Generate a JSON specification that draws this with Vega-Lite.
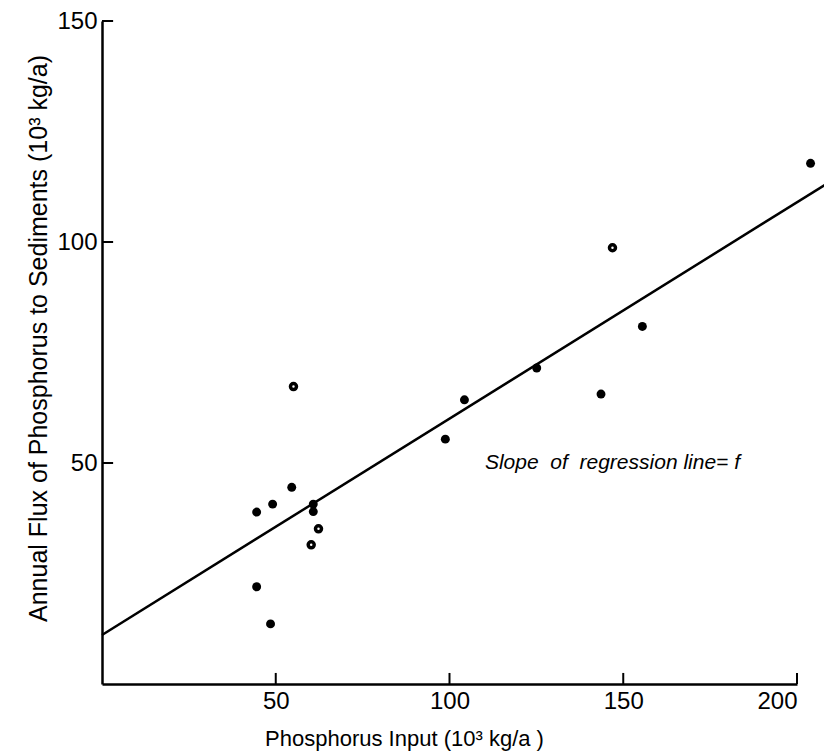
{
  "$schema": "https://vega.github.io/schema/vega-lite/v6.json",
  "width": 695,
  "height": 663,
  "autosize": {"type": "none"},
  "padding": {"left": 102, "top": 21, "right": 27, "bottom": 68},
  "background": "white",
  "config": {"view": {"stroke": null}, "font": "Liberation Sans"},
  "datasets": {
    "points": [
      {"input": 55.1, "flux": 67.3, "marker": "ring"},
      {"input": 54.6, "flux": 44.5, "marker": "filled"},
      {"input": 49.1, "flux": 40.7, "marker": "filled"},
      {"input": 44.5, "flux": 38.9, "marker": "filled"},
      {"input": 60.8, "flux": 40.7, "marker": "filled"},
      {"input": 60.8, "flux": 39.0, "marker": "filled"},
      {"input": 62.3, "flux": 35.1, "marker": "ring"},
      {"input": 60.2, "flux": 31.5, "marker": "ring"},
      {"input": 44.5, "flux": 22.0, "marker": "filled"},
      {"input": 48.5, "flux": 13.6, "marker": "filled"},
      {"input": 203.9, "flux": 117.8, "marker": "filled"},
      {"input": 146.9, "flux": 98.7, "marker": "ring"},
      {"input": 155.5, "flux": 80.9, "marker": "filled"},
      {"input": 125.1, "flux": 71.5, "marker": "filled"},
      {"input": 143.6, "flux": 65.6, "marker": "filled"},
      {"input": 104.3, "flux": 64.3, "marker": "filled"},
      {"input": 98.8, "flux": 55.4, "marker": "filled"}
    ],
    "regression": [
      {"input": 0, "flux": 11.1},
      {"input": 208, "flux": 112.9}
    ],
    "xticks": [{"value": 50}, {"value": 100}, {"value": 150}, {"value": 200}],
    "yticks": [{"value": 50}, {"value": 100}, {"value": 150}]
  },
  "layer": [
    {
      "data": {"name": "regression"},
      "mark": {"type": "line", "color": "black", "strokeWidth": 2.5, "clip": false},
      "encoding": {
        "x": {
          "field": "input",
          "type": "quantitative",
          "scale": {"domain": [0, 200], "nice": false, "zero": true},
          "axis": {
            "title": "Phosphorus Input (10³ kg/a )",
            "values": [50, 100, 150, 200],
            "grid": false,
            "ticks": false,
            "domainColor": "black",
            "domainWidth": 2.5,
            "labelPadding": 5,
            "labelFontSize": 24,
            "labelColor": "black",
            "labelFont": "Liberation Sans",
            "titleFont": "Liberation Sans",
            "titleFontSize": 22,
            "titleFontWeight": "normal",
            "titleColor": "black",
            "titleX": 302,
            "titleY": 61,
            "titleBaseline": "alphabetic",
            "titleAlign": "center"
          }
        },
        "y": {
          "field": "flux",
          "type": "quantitative",
          "scale": {"domain": [0, 150], "nice": false, "zero": true},
          "axis": {
            "title": "Annual Flux of Phosphorus to Sediments (10³ kg/a)",
            "values": [50, 100, 150],
            "grid": false,
            "ticks": false,
            "domainColor": "black",
            "domainWidth": 2.5,
            "labelPadding": 5,
            "labelFontSize": 24,
            "labelColor": "black",
            "labelFont": "Liberation Sans",
            "titleFont": "Liberation Sans",
            "titleFontSize": 25,
            "titleFontWeight": "normal",
            "titleColor": "black",
            "titleX": -64,
            "titleY": 317,
            "titleAngle": -90,
            "titleBaseline": "middle",
            "titleAlign": "center"
          }
        }
      }
    },
    {
      "data": {"name": "xticks"},
      "mark": {"type": "rule", "color": "black", "strokeWidth": 2},
      "encoding": {
        "x": {"field": "value", "type": "quantitative"},
        "y": {"datum": 0, "type": "quantitative"},
        "y2": {"datum": 2.5}
      }
    },
    {
      "data": {"name": "yticks"},
      "mark": {"type": "rule", "color": "black", "strokeWidth": 2},
      "encoding": {
        "y": {"field": "value", "type": "quantitative"},
        "x": {"datum": 0, "type": "quantitative"},
        "x2": {"datum": 3.2}
      }
    },
    {
      "data": {"name": "points"},
      "transform": [{"filter": "datum.marker == 'filled'"}],
      "mark": {"type": "point", "shape": "circle", "filled": true, "color": "black", "opacity": 1, "size": 80, "clip": false},
      "encoding": {
        "x": {"field": "input", "type": "quantitative"},
        "y": {"field": "flux", "type": "quantitative"}
      }
    },
    {
      "data": {"name": "points"},
      "transform": [{"filter": "datum.marker == 'ring'"}],
      "mark": {"type": "point", "shape": "circle", "filled": false, "color": "black", "opacity": 1, "size": 36, "strokeWidth": 3.5, "clip": false},
      "encoding": {
        "x": {"field": "input", "type": "quantitative"},
        "y": {"field": "flux", "type": "quantitative"}
      }
    },
    {
      "data": {"values": [{}]},
      "mark": {"type": "text", "text": "Slope\u00a0 of\u00a0 regression line= f", "align": "left", "baseline": "middle", "fontStyle": "italic", "fontSize": 21, "color": "black", "font": "Liberation Sans"},
      "encoding": {
        "x": {"datum": 110.2, "type": "quantitative"},
        "y": {"datum": 50, "type": "quantitative"}
      }
    }
  ]
}
